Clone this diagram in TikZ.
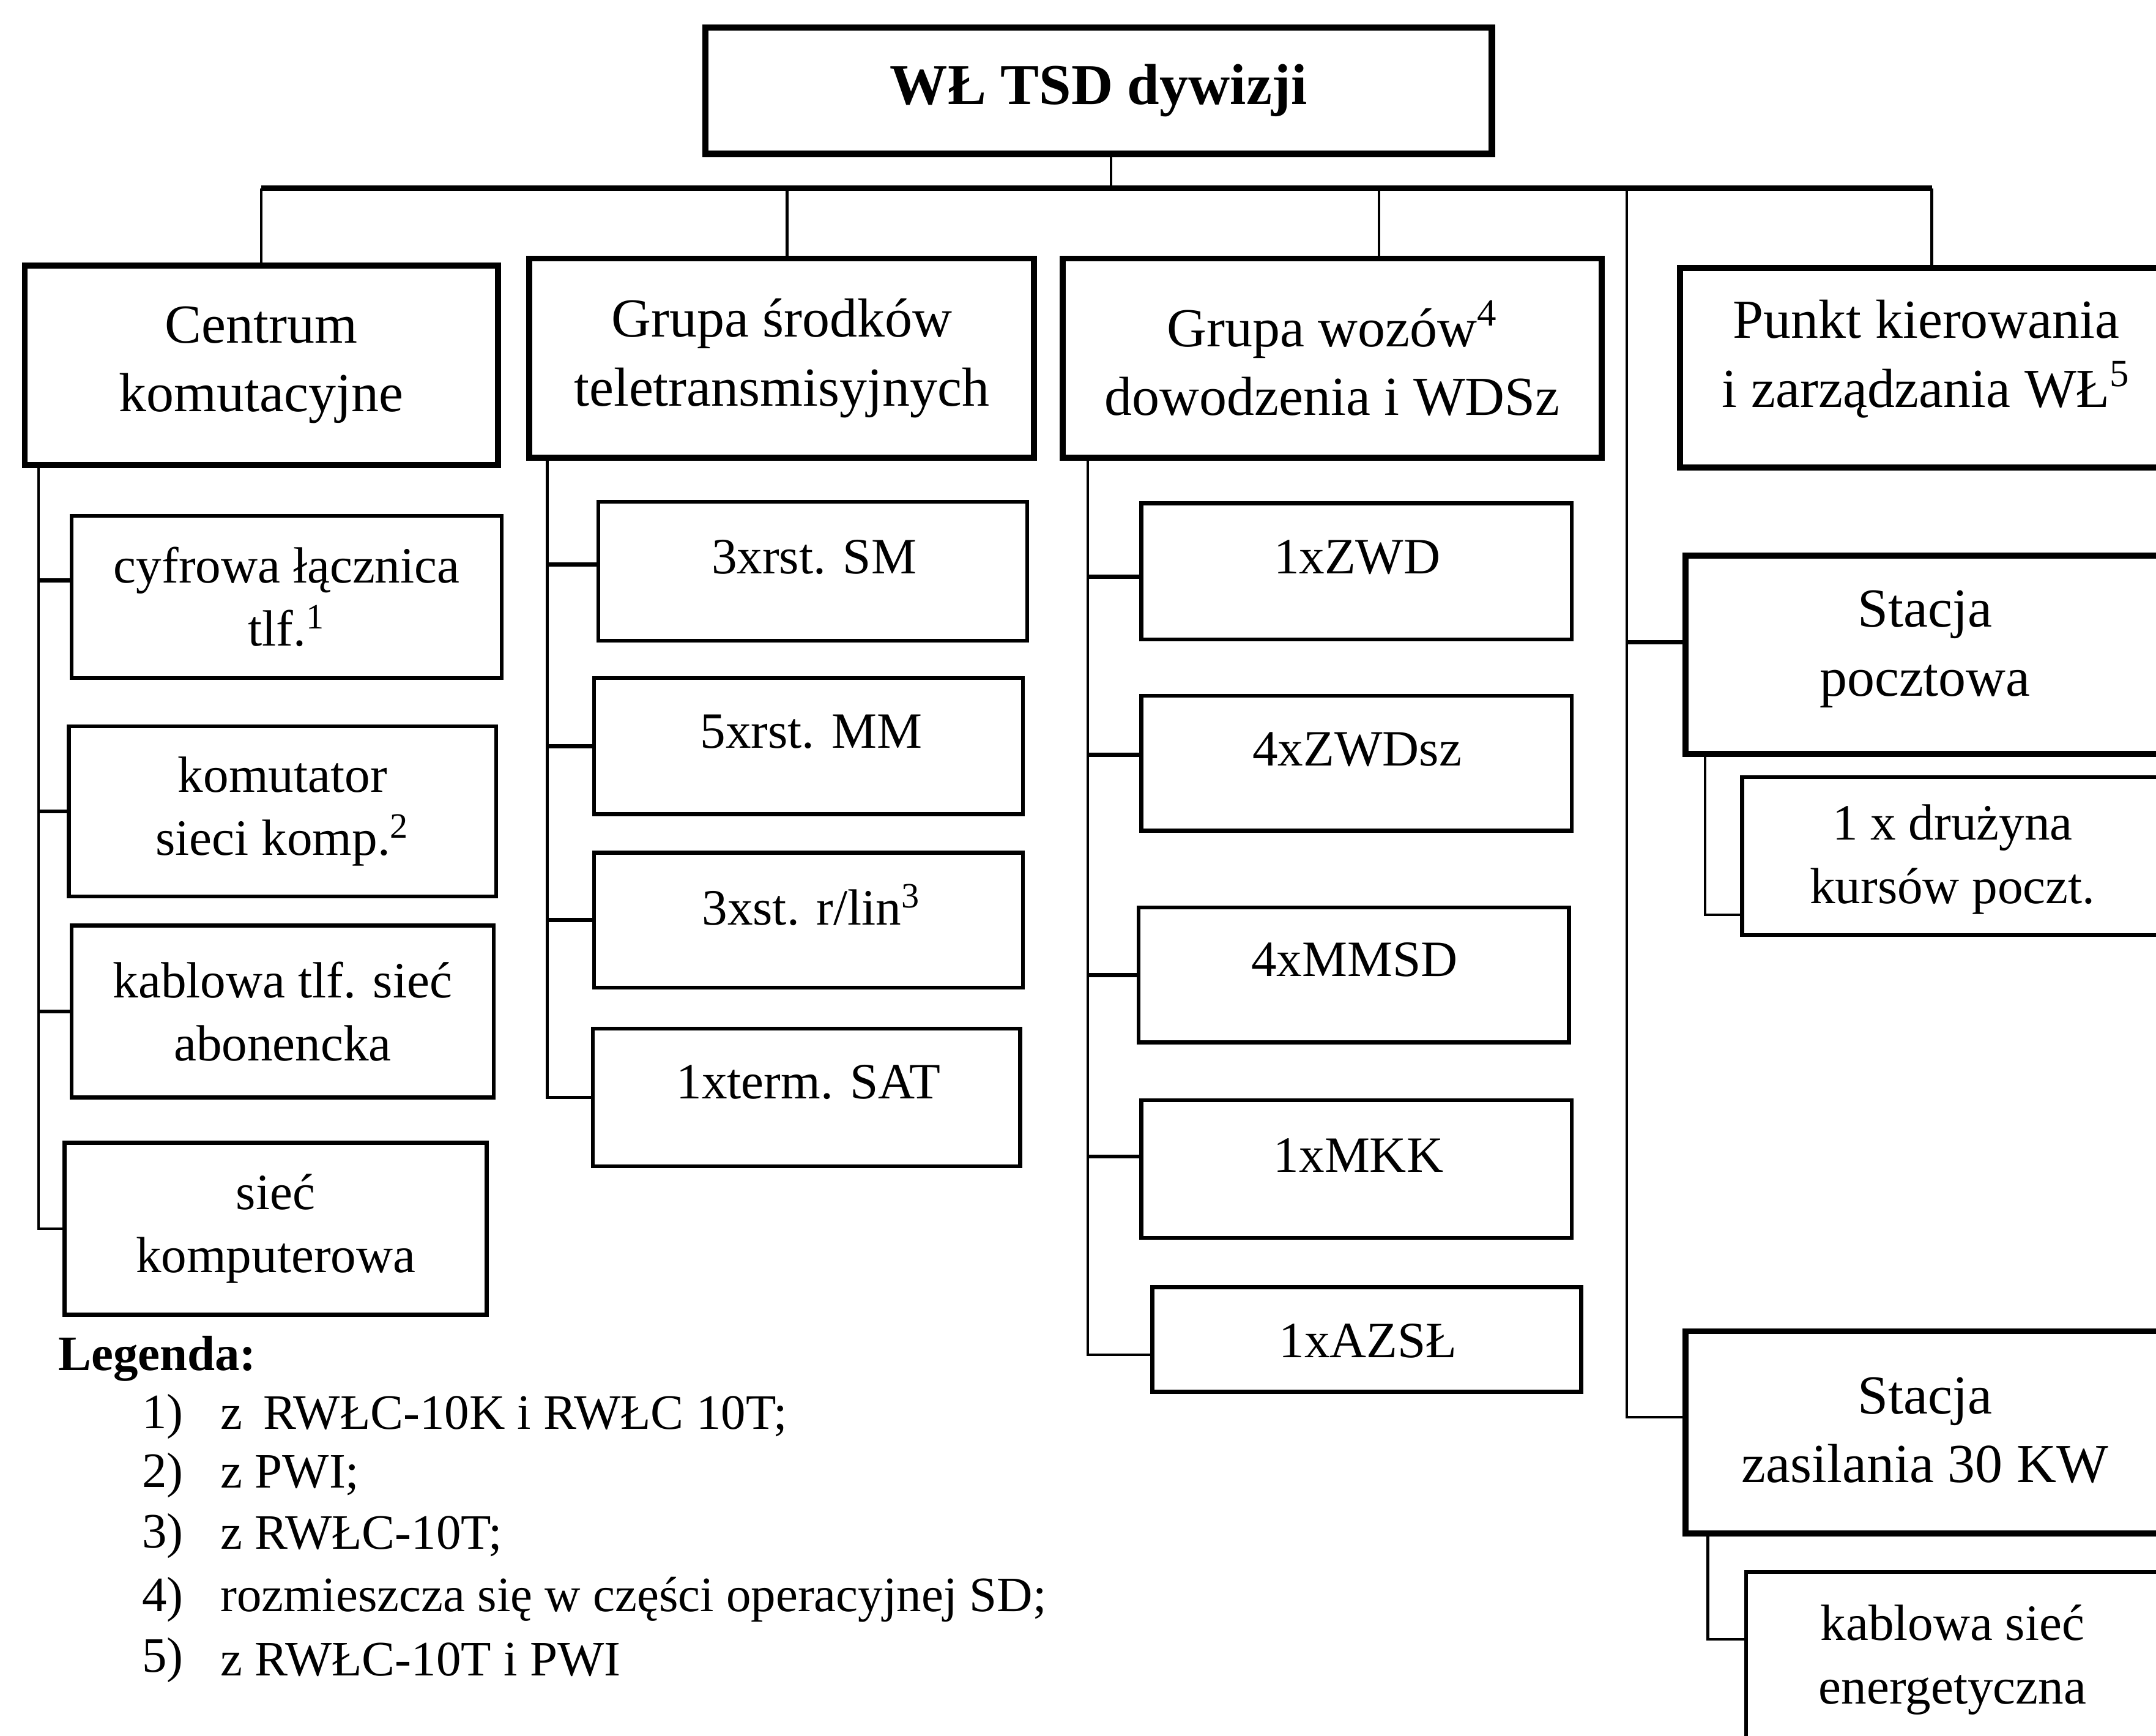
\documentclass[tikz,border=0pt]{standalone}
\usepackage{fontspec}
\setmainfont{Liberation Serif}
\begin{document}
\begin{tikzpicture}[x=0.5pt,y=-0.5pt,
  topbox/.style={draw,line width=2.4pt,inner sep=0pt,font=\bfseries\fontsize{21}{25}\selectfont},
  mainbox/.style={draw,line width=2.2pt,inner sep=0pt,align=center,font=\fontsize{20}{25}\selectfont},
  subbox/.style={draw,line width=1.4pt,inner sep=0pt,align=center,font=\fontsize{18.5}{23}\selectfont},
  mtext/.style={align=center,inner sep=0pt,font=\fontsize{20}{25}\selectfont},
  stext/.style={align=center,inner sep=0pt,font=\fontsize{18.5}{23}\selectfont},
  legtext/.style={anchor=west,inner sep=0pt,font=\fontsize{18}{22}\selectfont},
  bus/.style={line width=2pt},
  link/.style={line width=1pt},
  tick/.style={line width=1.5pt}]
\clip (0,0) rectangle (1568,1262);
\fill[white] (0,0) rectangle (1568,1262);

% head of the unit
\node[topbox,minimum width=286pt,minimum height=46pt] (top) at (799,66) {WŁ TSD dywizji};

% first level
\node[mainbox,minimum width=172pt,minimum height=72.5pt] (centrum) at (190,265.5) {Centrum\\komutacyjne};
\node[mainbox,minimum width=183.5pt,minimum height=72.5pt] (srodki) at (568.5,260.5) {Grupa środków\\teletransmisyjnych};
\node[mainbox,minimum width=196pt,minimum height=72.5pt] (wozow) at (969,260.5) {Grupa wozów\textsuperscript{4}\\dowodzenia i WDSz};
\node[mainbox,minimum width=184pt,minimum height=72.5pt] (punkt) at (1406,267.5) {};
\node[mtext] (tpunkt) at (1401,261) {Punkt kierowania\\i zarządzania WŁ\textsuperscript{5}};

% bus
\coordinate (busL) at (190,137);
\coordinate (busR) at (1405,137);
\coordinate (trunk) at (1183,137);
\draw[bus] (busL) -- (busR);
\draw[link] ([xshift=4.5pt]top.south) -- ([xshift=4.5pt]top.south |- busL);
\draw[link] (centrum.north) -- (centrum.north |- busL);
\draw[link] ([xshift=2pt]srodki.north) -- ([xshift=2pt]srodki.north |- busL);
\draw[link] ([xshift=17pt]wozow.north) -- ([xshift=17pt]wozow.north |- busL);
\draw[link] (busR) -- (busR |- punkt.north);

% switching centre
\node[subbox,minimum width=156.5pt,minimum height=59pt] (cyfr) at (208.5,434) {cyfrowa łącznica\\tlf.\textsuperscript{1}};
\node[subbox,minimum width=155.5pt,minimum height=62pt] (komut) at (205.5,590) {komutator\\sieci komp.\textsuperscript{2}};
\node[subbox,minimum width=153.5pt,minimum height=62.5pt] (kabl) at (205.5,735.5) {kablowa tlf. sieć\\abonencka};
\node[subbox,minimum width=153.5pt,minimum height=62.5pt] (siec) at (200.5,893.5) {sieć\\komputerowa};
\coordinate (cT) at (28,0);
\coordinate (cyfrIn) at ([yshift=6pt]cyfr.west);
\draw[link] (centrum.south -| cT) -- (cT |- siec.west) -- (siec.west);
\draw[tick] (cT |- cyfrIn) -- (cyfrIn);
\foreach \b in {komut,kabl}
  \draw[tick] (cT |- \b.west) -- (\b.west);

% transmission means
\node[subbox,minimum width=156pt,minimum height=50.5pt] (sm) at (591,415.5) {};
\node[subbox,minimum width=156pt,minimum height=49.5pt] (mm) at (588,542.5) {};
\node[subbox,minimum width=156pt,minimum height=49pt] (rlin) at (588,669) {};
\node[subbox,minimum width=155.5pt,minimum height=50pt] (sat) at (586.5,798) {};
\node[stext] (tsm) at (592,405) {3xrst. SM};
\node[stext] (tmm) at (590,532) {5xrst. MM};
\node[stext] (trlin) at (590,658) {3xst. r/lin\textsuperscript{3}};
\node[stext] (tsat) at (588,787) {1xterm. SAT};
\coordinate (sT) at (398,0);
\coordinate (smIn) at ([yshift=2.5pt]sm.west);
\draw[link] (srodki.south -| sT) -- (sT |- sat.west) -- (sat.west);
\draw[tick] (sT |- smIn) -- (smIn);
\foreach \b in {mm,rlin}
  \draw[tick] (sT |- \b.west) -- (\b.west);

% command vehicles
\node[subbox,minimum width=156.5pt,minimum height=49.5pt] (zwd) at (986.5,415.5) {};
\node[subbox,minimum width=156.5pt,minimum height=49pt] (zwdsz) at (986.5,555) {};
\node[subbox,minimum width=156.5pt,minimum height=49pt] (mmsd) at (984.5,709) {};
\node[subbox,minimum width=156.5pt,minimum height=50pt] (mkk) at (986.5,850) {};
\node[subbox,minimum width=156pt,minimum height=38pt] (azsl) at (994,974) {};
\node[stext] (tzwd) at (987,405) {1xZWD};
\node[stext] (tzwdsz) at (987,545) {4xZWDsz};
\node[stext] (tmmsd) at (985,698) {4xMMSD};
\node[stext] (tmkk) at (988,840) {1xMKK};
\node[stext] (tazsl) at (995,975) {1xAZSŁ};
\coordinate (wT) at (791,0);
\coordinate (zwdIn) at ([yshift=-2pt]zwd.west);
\coordinate (zwdszIn) at ([yshift=3pt]zwdsz.west);
\coordinate (mkkIn) at ([yshift=4.5pt]mkk.west);
\coordinate (azslIn) at ([yshift=-5.5pt]azsl.west);
\draw[link] (wozow.south -| wT) -- (wT |- azslIn) -- (azslIn);
\draw[tick] (wT |- zwdIn) -- (zwdIn);
\draw[tick] (wT |- zwdszIn) -- (zwdszIn);
\draw[tick] (wT |- mmsd.west) -- (mmsd.west);
\draw[tick] (wT |- mkkIn) -- (mkkIn);

% post and power stations
\node[mainbox,minimum width=182pt,minimum height=72pt] (pocz) at (1408,476) {};
\node[mtext] (tpocz) at (1400,472) {Stacja\\pocztowa};
\node[subbox,minimum width=166.5pt,minimum height=57.5pt] (druz) at (1433.5,622.5) {};
\node[stext] (tdruz) at (1420,625) {1 x drużyna\\kursów poczt.};
\node[mainbox,minimum width=182pt,minimum height=73.5pt] (zasil) at (1408,1041.5) {};
\node[mtext] (tzasil) at (1400,1040) {Stacja\\zasilania 30 KW};
\node[subbox,minimum width=165pt,minimum height=88.5pt] (kabE) at (1435,1231.5) {};
\node[stext] (tkabE) at (1420,1207) {kablowa sieć\\energetyczna};

\coordinate (poczIn) at ([yshift=4.5pt]pocz.west);
\coordinate (zasilIn) at ([yshift=5.5pt]zasil.west);
\draw[link] (trunk) -- (trunk |- zasilIn) -- (zasilIn);
\draw[tick] (trunk |- poczIn) -- (poczIn);
\coordinate (pT) at (1240,0);
\draw[link] (pocz.south -| pT) -- (pT |- tdruz.south) coordinate (pE) -- (pE -| druz.west);
\coordinate (zT) at (1242,1192);
\draw[link] (zasil.south -| zT) -- (zT) -- (zT -| kabE.west);

% legend
\node[legtext,font=\bfseries\fontsize{18}{22}\selectfont] (leg) at (42,988) {Legenda:};
\node[legtext] (n1) at (103,1030) {1)};
\node[legtext] (n2) at (103,1073) {2)};
\node[legtext] (n3) at (103,1117) {3)};
\node[legtext] (n4) at (103,1163) {4)};
\node[legtext] (n5) at (103,1207) {5)};
\node[legtext] (l1) at (160,1030) {z\, RWŁC-10K i RWŁC 10T;};
\node[legtext] (l2) at (160,1073) {z PWI;};
\node[legtext] (l3) at (160,1117) {z RWŁC-10T;};
\node[legtext] (l4) at (160,1163) {rozmieszcza się w części operacyjnej SD;};
\node[legtext] (l5) at (160,1207) {z RWŁC-10T i PWI};
\end{tikzpicture}
\end{document}
